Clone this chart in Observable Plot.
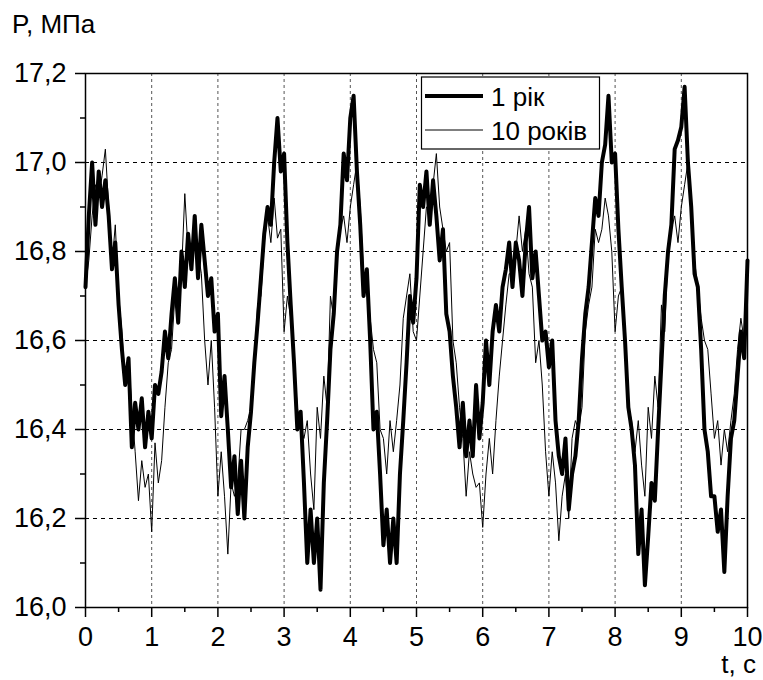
<!DOCTYPE html>
<html>
<head>
<meta charset="utf-8">
<script src="https://cdn.jsdelivr.net/npm/d3@7"></script>
<script src="https://cdn.jsdelivr.net/npm/@observablehq/plot@0.6"></script>
<style>
  html, body { margin: 0; padding: 0; background: #fff; overflow: hidden; }
</style>
</head>
<body>
<div id="chart"></div>
<script>
// sampling step of the time axis, s
const tStep = 0.05;

// P, MPa — "1 рік" (thick line), one value every 0.05 s from 0 to 10 s
const p1Year = [
  16.72,16.88,17.00,16.86,16.98,16.90,16.96,16.88,16.76,16.82,16.68,16.58,16.50,16.56,16.36,16.46,16.40,16.47,16.36,16.44,
  16.38,16.50,16.48,16.53,16.62,16.56,16.66,16.74,16.64,16.80,16.72,16.84,16.76,16.88,16.74,16.86,16.78,16.70,16.74,16.62,
  16.66,16.43,16.52,16.40,16.27,16.34,16.21,16.33,16.20,16.36,16.44,16.55,16.64,16.74,16.84,16.90,16.86,17.00,17.10,16.98,
  17.02,16.82,16.68,16.55,16.40,16.44,16.28,16.10,16.22,16.10,16.20,16.04,16.28,16.42,16.58,16.66,16.80,16.86,17.02,16.96,
  17.10,17.15,16.98,16.86,16.70,16.76,16.60,16.40,16.44,16.30,16.14,16.22,16.10,16.20,16.10,16.30,16.42,16.55,16.70,16.64,
  16.74,16.95,16.90,16.98,16.86,16.96,16.88,16.78,16.85,16.66,16.62,16.52,16.45,16.36,16.46,16.34,16.42,16.34,16.50,16.38,
  16.46,16.60,16.50,16.62,16.68,16.62,16.72,16.76,16.82,16.72,16.82,16.78,16.70,16.82,16.90,16.74,16.80,16.70,16.60,16.62,
  16.54,16.60,16.42,16.34,16.30,16.38,16.22,16.30,16.34,16.42,16.56,16.66,16.72,16.82,16.92,16.88,17.00,17.04,17.15,17.00,
  17.02,16.85,16.72,16.60,16.45,16.40,16.32,16.12,16.22,16.05,16.16,16.28,16.24,16.40,16.55,16.70,16.80,16.86,17.03,17.05,
  17.08,17.17,17.00,16.90,16.75,16.72,16.58,16.40,16.35,16.25,16.25,16.17,16.22,16.08,16.25,16.38,16.42,16.52,16.62,16.56,
  16.78
];

// P, MPa — "10 років" (thin line), same sampling
const p10Years = [
  16.72,16.78,16.88,16.95,16.92,16.97,17.03,16.90,16.77,16.86,16.70,16.62,16.50,16.56,16.45,16.35,16.24,16.33,16.27,16.30,
  16.17,16.37,16.28,16.33,16.45,16.55,16.58,16.70,16.72,16.75,16.93,16.80,16.78,16.85,16.80,16.75,16.60,16.50,16.60,16.45,
  16.25,16.35,16.25,16.12,16.28,16.25,16.28,16.40,16.40,16.42,16.45,16.55,16.68,16.70,16.82,16.88,16.82,16.92,16.83,16.85,
  16.62,16.70,16.65,16.55,16.45,16.40,16.38,16.42,16.30,16.22,16.45,16.38,16.52,16.45,16.70,16.65,16.78,16.85,16.88,16.82,
  16.90,16.95,17.00,16.90,16.75,16.72,16.65,16.58,16.55,16.40,16.38,16.30,16.42,16.35,16.42,16.50,16.65,16.70,16.75,16.62,
  16.60,16.70,16.80,16.90,16.90,16.95,17.02,16.90,16.85,16.80,16.82,16.60,16.55,16.45,16.38,16.25,16.35,16.30,16.27,16.28,
  16.18,16.30,16.38,16.30,16.42,16.52,16.60,16.68,16.75,16.75,16.80,16.88,16.80,16.85,16.75,16.72,16.55,16.60,16.50,16.35,
  16.25,16.35,16.28,16.15,16.25,16.30,16.20,16.38,16.42,16.40,16.45,16.62,16.68,16.72,16.85,16.82,16.85,16.92,16.88,16.80,
  16.62,16.70,16.72,16.60,16.45,16.42,16.35,16.42,16.32,16.25,16.45,16.38,16.52,16.45,16.68,16.62,16.80,16.85,16.88,16.82,
  16.90,16.95,17.00,16.90,16.78,16.72,16.65,16.60,16.58,16.48,16.38,16.42,16.32,16.40,16.35,16.42,16.48,16.58,16.65,16.60,
  16.70
];

const seriesNames = ["1 рік", "10 років"];
const xTicks = [0, 1, 2, 3, 4, 5, 6, 7, 8, 9, 10];
const xMinorTicks = [0.5, 1.5, 2.5, 3.5, 4.5, 5.5, 6.5, 7.5, 8.5, 9.5];
const yTicks = [16.0, 16.2, 16.4, 16.6, 16.8, 17.0, 17.2];
const yMinorTicks = [16.1, 16.3, 16.5, 16.7, 16.9, 17.1];
const xTitle = "t, c";
const yTitle = "P, МПа";

const fmtComma = d3.formatLocale({decimal: ",", thousands: " ", grouping: [3], currency: ["", ""]}).format(".1f");

const rows = p1Year.map((v, i) => ({t: i * tStep, p1: v, p10: p10Years[i]}));

const FONT = "'Liberation Sans', Arial, Helvetica, sans-serif";

const chart = Plot.plot({
  width: 763,
  height: 680,
  marginLeft: 85,
  marginRight: 16,
  marginTop: 73,
  marginBottom: 73,
  style: {fontFamily: FONT, fontSize: "27px", background: "white", color: "black"},
  x: {domain: [0, 10]},
  y: {domain: [16, 17.2]},
  marks: [
    Plot.gridY(yTicks.slice(1, -1), {stroke: "black", strokeOpacity: 1, strokeWidth: 1, strokeDasharray: "4,4"}),
    Plot.gridX(xTicks.slice(1, -1), {stroke: "#555", strokeOpacity: 1, strokeWidth: 1, strokeDasharray: "3,3"}),
    Plot.line(rows, {x: "t", y: "p10", stroke: "black", strokeWidth: 1}),
    Plot.line(rows, {x: "t", y: "p1", stroke: "black", strokeWidth: 4}),
    Plot.axisX(xTicks, {tickSize: 10, tickPadding: 9, strokeWidth: 1.5, fontSize: 27, tickFormat: d => String(d), label: null}),
    Plot.axisX(xMinorTicks, {tickSize: 5, strokeWidth: 1.5, tickFormat: () => "", label: null}),
    Plot.axisY(yTicks, {tickSize: 10, tickPadding: 9, strokeWidth: 1.5, fontSize: 27, tickFormat: fmtComma, label: null}),
    Plot.axisY(yMinorTicks, {tickSize: 5, strokeWidth: 1.5, tickFormat: () => "", label: null}),
    Plot.frame({stroke: "black", strokeWidth: 1.5})
  ]
});

document.getElementById("chart").appendChild(chart);

// axis titles and legend
const svg = d3.select(chart);
svg.append("text")
  .attr("x", 12).attr("y", 33).attr("text-anchor", "start")
  .attr("font-family", FONT).attr("font-size", 26).attr("fill", "black")
  .text(yTitle);
svg.append("text")
  .attr("x", 756).attr("y", 673).attr("text-anchor", "end")
  .attr("font-family", FONT).attr("font-size", 26).attr("fill", "black")
  .text(xTitle);

const lg = svg.append("g");
lg.append("rect")
  .attr("x", 421.5).attr("y", 77).attr("width", 178).attr("height", 72)
  .attr("fill", "white").attr("stroke", "black").attr("stroke-width", 1.2);
const legendWidths = [4, 1];
seriesNames.forEach((name, i) => {
  const yy = 96 + i * 34;
  lg.append("line")
    .attr("x1", 425).attr("x2", 483).attr("y1", yy).attr("y2", yy)
    .attr("stroke", "black").attr("stroke-width", legendWidths[i]);
  lg.append("text")
    .attr("x", 491).attr("y", yy + 10).attr("text-anchor", "start")
    .attr("font-family", FONT).attr("font-size", 26).attr("fill", "black")
    .text(name);
});
</script>
</body>
</html>
